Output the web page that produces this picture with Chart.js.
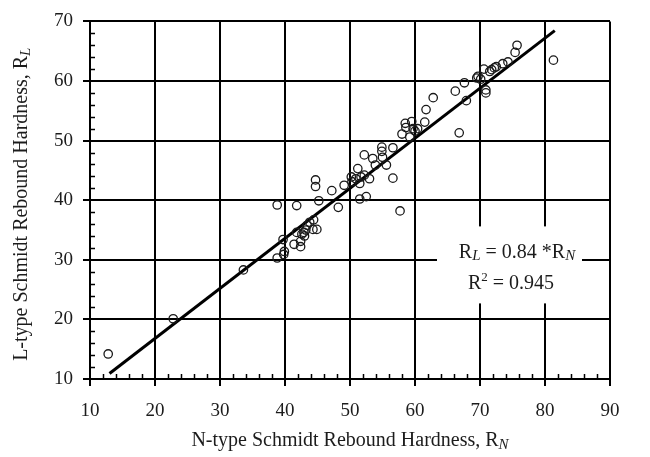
<!DOCTYPE html>
<html>
<head>
<meta charset="utf-8">
<title>L-type vs N-type Schmidt Rebound Hardness</title>
<script src="https://cdn.jsdelivr.net/npm/chart.js@4.4.1/dist/chart.umd.min.js"></script>
<style>
  html, body { margin: 0; padding: 0; background: #fff; }
  #chart { display: block; }
</style>
</head>
<body>
<canvas id="chart" width="650" height="457"></canvas>
<script>
// N-type rebound (x) and L-type rebound (y) readings
const rnValues = [
  12.8, 22.8, 33.6, 38.8, 39.8, 39.9, 39.7, 38.8, 41.8, 41.4,
  42.4, 42.4, 41.8, 42.6, 42.9, 43.2, 43.4, 43.8, 44.4, 44.3,
  44.9, 43.0, 44.7, 44.7, 45.2, 47.2, 48.2, 49.1, 50.2, 50.3,
  51.2, 50.9, 51.7, 51.5, 52.2, 53.0, 51.5, 52.5, 52.2, 53.5,
  53.9, 54.9, 54.9, 55.0, 55.6, 56.6, 56.6, 57.7, 58.0, 58.5,
  58.6, 59.5, 59.7, 60.4, 59.2, 60.0, 61.5, 61.7, 62.8, 66.2,
  66.8, 67.6, 67.9, 69.5, 69.7, 70.1, 70.9, 70.9, 70.6, 71.5,
  71.8, 72.2, 72.5, 73.5, 74.3, 75.4, 75.7, 81.3
];
const rlValues = [
  14.2, 20.1, 28.3, 30.3, 30.9, 31.4, 33.4, 39.2, 39.1, 32.6,
  32.2, 33.1, 34.6, 34.3, 34.6, 35.0, 35.8, 36.3, 36.7, 35.1,
  35.1, 34.0, 43.4, 42.3, 39.9, 41.6, 38.8, 42.5, 43.9, 43.1,
  45.3, 43.6, 43.9, 42.8, 44.2, 43.6, 40.2, 40.6, 47.6, 47.0,
  45.9, 48.9, 48.2, 47.2, 45.9, 48.8, 43.7, 38.2, 51.1, 52.9,
  52.2, 53.2, 52.0, 52.0, 50.6, 51.6, 53.1, 55.2, 57.2, 58.3,
  51.3, 59.7, 56.7, 60.5, 60.8, 60.3, 58.5, 58.0, 62.0, 61.6,
  61.9, 62.2, 62.4, 62.9, 63.2, 64.8, 66.0, 63.5
];

// fitted line R_L = 0.84 * R_N
const fitSlope = 0.84;
const fitRange = [13, 81.5];
const rSquaredText = '0.945';
const slopeText = '0.84';

const xRange = [10, 90];
const yRange = [10, 70];
const majorStep = 10;
const minorStep = 2;

const serif = '"Liberation Serif", "Times New Roman", serif';
const inkColor = '#1c1c1c';

const points = rnValues.map((x, i) => ({ x: x, y: rlValues[i] }));
const fitLine = fitRange.map(x => ({ x: x, y: fitSlope * x }));

// draws a run of text pieces, some lowered/raised and smaller
function drawRich(ctx, parts, cx, cy) {
  const widths = parts.map(p => {
    ctx.font = (p.italic ? 'italic ' : '') + p.size + 'px ' + serif;
    return ctx.measureText(p.t).width;
  });
  const total = widths.reduce((a, b) => a + b, 0);
  let x = cx - total / 2;
  ctx.textBaseline = 'middle';
  ctx.textAlign = 'left';
  parts.forEach((p, i) => {
    ctx.font = (p.italic ? 'italic ' : '') + p.size + 'px ' + serif;
    ctx.fillText(p.t, x, cy + (p.dy || 0));
    x += widths[i];
  });
}

const decor = {
  id: 'decor',
  beforeDatasetsDraw(chart) {
    const { ctx, chartArea: a, scales } = chart;
    ctx.save();

    // white panel behind the equation
    ctx.fillStyle = '#fff';
    ctx.fillRect(a.right - 173, a.top + 205, 145, 77);

    // minor ticks, pointing inwards
    ctx.strokeStyle = '#000';
    ctx.lineWidth = 1.5;
    ctx.beginPath();
    for (let v = xRange[0]; v <= xRange[1]; v += minorStep) {
      if (v % majorStep === 0) continue;
      const px = Math.round(scales.x.getPixelForValue(v)) + 0.5;
      ctx.moveTo(px, a.bottom);
      ctx.lineTo(px, a.bottom - 5);
    }
    for (let v = yRange[0]; v <= yRange[1]; v += minorStep) {
      if (v % majorStep === 0) continue;
      const py = Math.round(scales.y.getPixelForValue(v)) + 0.5;
      ctx.moveTo(a.left, py);
      ctx.lineTo(a.left + 5, py);
    }
    ctx.stroke();

    ctx.fillStyle = inkColor;
    drawRich(ctx, [
      { t: 'R', size: 20 },
      { t: 'L', size: 15, italic: true, dy: 4 },
      { t: ' = ' + slopeText + ' *R', size: 20 },
      { t: 'N', size: 15, italic: true, dy: 4 }
    ], a.right - 93, a.top + 231);
    drawRich(ctx, [
      { t: 'R', size: 20 },
      { t: '2', size: 13, dy: -6 },
      { t: ' = ' + rSquaredText, size: 20 }
    ], a.right - 99, a.top + 262);

    // axis titles
    drawRich(ctx, [
      { t: 'N-type Schmidt Rebound Hardness, R', size: 20 },
      { t: 'N', size: 15, italic: true, dy: 4 }
    ], (a.left + a.right) / 2, 441);

    ctx.translate(22, (a.top + a.bottom) / 2 + 4);
    ctx.rotate(-Math.PI / 2);
    drawRich(ctx, [
      { t: 'L-type Schmidt Rebound Hardness, R', size: 20 },
      { t: 'L', size: 15, italic: true, dy: 4 }
    ], 0, 0);
    ctx.restore();
  }
};

const gridStyle = { color: '#000', lineWidth: 2, tickLength: 7, drawTicks: true };
const tickStyle = { stepSize: majorStep, color: inkColor, font: { family: serif, size: 19 } };

new Chart(document.getElementById('chart'), {
  type: 'scatter',
  data: {
    datasets: [
      {
        data: fitLine,
        showLine: true,
        borderColor: '#000',
        borderWidth: 3,
        pointRadius: 0,
        order: 2
      },
      {
        data: points,
        pointStyle: 'circle',
        pointRadius: 4.2,
        pointBorderWidth: 1.3,
        borderColor: '#1a1a1a',
        backgroundColor: 'rgba(0,0,0,0)',
        order: 1
      }
    ]
  },
  options: {
    responsive: false,
    animation: false,
    layout: { padding: { top: 18, right: 40, left: 0, bottom: 0 } },
    plugins: { legend: { display: false }, tooltip: { enabled: false } },
    scales: {
      x: {
        type: 'linear',
        min: xRange[0], max: xRange[1],
        grid: gridStyle,
        border: { color: '#000', width: 2 },
        ticks: Object.assign({ padding: 14 }, tickStyle),
        afterFit: s => { s.height = 78; }
      },
      y: {
        type: 'linear',
        min: yRange[0], max: yRange[1],
        grid: gridStyle,
        border: { color: '#000', width: 2 },
        ticks: Object.assign({ padding: 10 }, tickStyle),
        afterFit: s => { s.width = 90; }
      }
    }
  },
  plugins: [decor]
});
</script>
</body>
</html>
